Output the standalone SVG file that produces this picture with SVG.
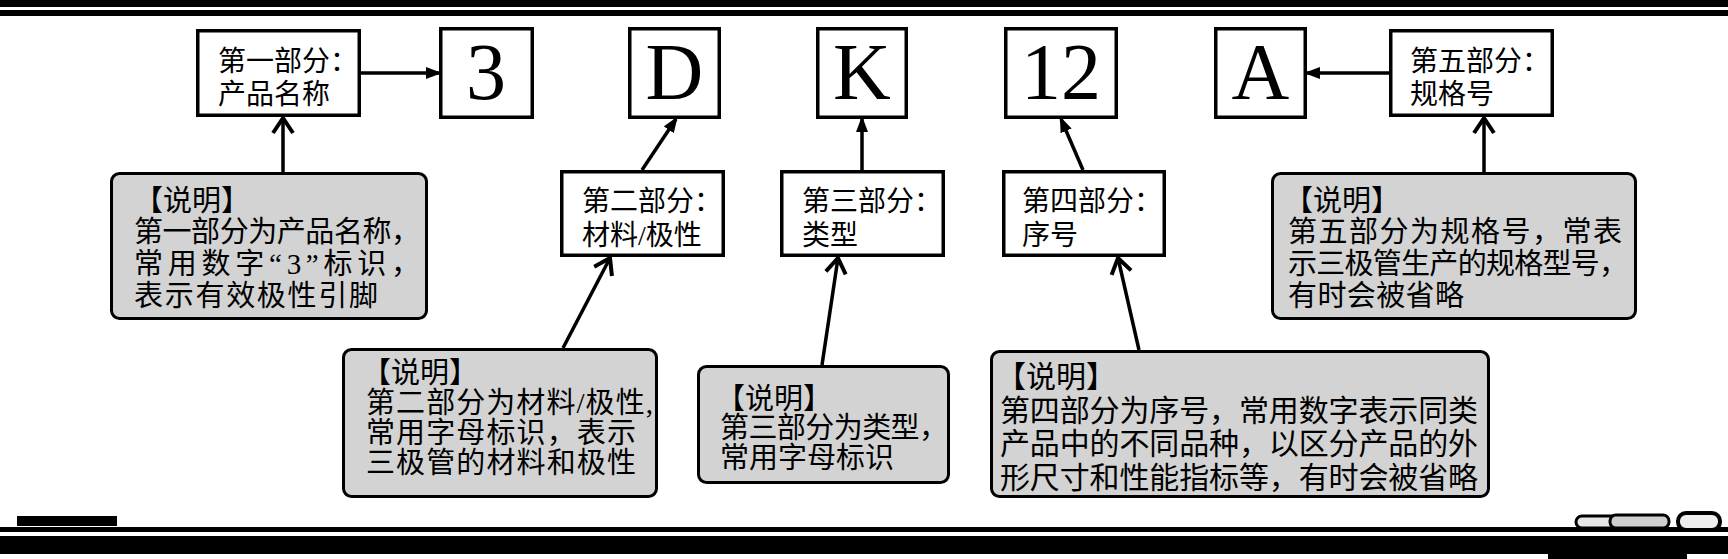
<svg xmlns="http://www.w3.org/2000/svg" width="1728" height="559" viewBox="0 0 1728 559">
<style>
.box{fill:#fff;stroke:#000;stroke-width:3.5}
.note{fill:#d3d3d3;stroke:#000;stroke-width:3;rx:8;ry:8}
.t{font-family:"Liberation Serif","Noto Sans CJK SC",serif;fill:#000}
.nt{font-size:28px}
.ct{font-size:29px}
.big{font-family:"Liberation Serif",serif;font-size:80px;text-anchor:middle;fill:#000}
.c{fill:none;stroke:#000;stroke-width:3.5}
.band{fill:#000}
</style>
<defs>
<marker id="tri" viewBox="0 0 16 12" refX="13" refY="6" markerWidth="16" markerHeight="12" markerUnits="userSpaceOnUse" orient="auto">
<path d="M0,0 L16,6 L0,12 Z" fill="#000"/>
</marker>
<marker id="chev" viewBox="-20 -14 24 28" refX="0" refY="0" markerWidth="24" markerHeight="28" markerUnits="userSpaceOnUse" orient="auto" overflow="visible">
<path d="M-15,-10 L0,0 L-15,10" fill="none" stroke="#000" stroke-width="4"/>
</marker>
</defs>

<g id="frame">
<rect class="band" x="0" y="0" width="1728" height="7"/>
<rect class="band" x="0" y="10" width="1728" height="6"/>
<rect class="band" x="17" y="516" width="100" height="10"/>
<rect class="band" x="0" y="527" width="1728" height="5"/>
<rect class="band" x="0" y="536" width="1728" height="18"/>
<rect class="band" x="1548" y="554" width="139" height="5"/>
<rect x="1576" y="516" width="45" height="12" rx="6" fill="#e6e6e6" stroke="#000" stroke-width="3"/>
<rect x="1610" y="515" width="59" height="13" rx="6" fill="#cfcfcf" stroke="#000" stroke-width="3"/>
<rect x="1678" y="513" width="42" height="17" rx="8" fill="#eee" stroke="#000" stroke-width="4"/>
</g>

<g id="connectors">
<path class="c" d="M361,73 L439,73" marker-end="url(#tri)"/>
<path class="c" d="M1389,73 L1307,73" marker-end="url(#tri)"/>
<path class="c" d="M642,170 L676,119" marker-end="url(#tri)"/>
<path class="c" d="M862,170 L862,119" marker-end="url(#tri)"/>
<path class="c" d="M1083,170 L1061,119" marker-end="url(#tri)"/>
<path class="c" d="M283,172 L283,118" marker-end="url(#chev)"/>
<path class="c" d="M563,348 L610,258" marker-end="url(#chev)"/>
<path class="c" d="M822,365 L838,258" marker-end="url(#chev)"/>
<path class="c" d="M1139,350 L1118,258" marker-end="url(#chev)"/>
<path class="c" d="M1484,172 L1484,118" marker-end="url(#chev)"/>
</g>

<g id="node1">
<rect class="box" x="197.75" y="30.75" width="161.5" height="84.5"/>
<text class="t nt" x="218" y="71">第一部分：</text>
<text class="t nt" x="218" y="104">产品名称</text>
</g>
<g id="box3">
<rect class="box" x="440.75" y="28.75" width="91.5" height="88.5"/>
<text class="big" x="486" y="99">3</text>
</g>
<g id="boxD">
<rect class="box" x="629.75" y="28.75" width="89.5" height="88.5"/>
<text class="big" x="674.5" y="99">D</text>
</g>
<g id="boxK">
<rect class="box" x="817.75" y="28.75" width="88.5" height="88.5"/>
<text class="big" x="862" y="99">K</text>
</g>
<g id="box12">
<rect class="box" x="1005.75" y="28.75" width="110.5" height="88.5"/>
<text class="big" x="1061" y="99">12</text>
</g>
<g id="boxA">
<rect class="box" x="1215.75" y="28.75" width="89.5" height="88.5"/>
<text class="big" x="1260.5" y="99">A</text>
</g>
<g id="node5">
<rect class="box" x="1390.75" y="30.75" width="161.5" height="84.5"/>
<text class="t nt" x="1410" y="71">第五部分：</text>
<text class="t nt" x="1410" y="104">规格号</text>
</g>
<g id="node2">
<rect class="box" x="561.75" y="171.75" width="161.5" height="83.5"/>
<text class="t nt" x="582" y="211">第二部分：</text>
<text class="t nt" x="582" y="245">材料/极性</text>
</g>
<g id="node3">
<rect class="box" x="781.75" y="171.75" width="161.5" height="83.5"/>
<text class="t nt" x="802" y="211">第三部分：</text>
<text class="t nt" x="802" y="245">类型</text>
</g>
<g id="node4">
<rect class="box" x="1003.75" y="171.75" width="160.5" height="83.5"/>
<text class="t nt" x="1022" y="211">第四部分：</text>
<text class="t nt" x="1022" y="245">序号</text>
</g>

<g id="note1">
<rect class="note" x="111.5" y="173.5" width="315" height="145"/>
<text class="t ct" x="134" y="211">【说明】</text>
<text class="t ct" x="134" y="242" textLength="286" lengthAdjust="spacing">第一部分为产品名称，</text>
<text class="t ct" x="134" y="274" textLength="286" lengthAdjust="spacing">常用数字“3”标识，</text>
<text class="t ct" x="134" y="306" textLength="244" lengthAdjust="spacing">表示有效极性引脚</text>
</g>
<g id="note2">
<rect class="note" x="343.5" y="349.5" width="313" height="147"/>
<text class="t ct" x="362" y="383">【说明】</text>
<text class="t ct" x="366" y="413" textLength="287" lengthAdjust="spacing">第二部分为材料/极性,</text>
<text class="t ct" x="366" y="443" textLength="270" lengthAdjust="spacing">常用字母标识，表示</text>
<text class="t ct" x="366" y="473" textLength="270" lengthAdjust="spacing">三极管的材料和极性</text>
</g>
<g id="note3">
<rect class="note" x="698.5" y="366.5" width="250" height="116"/>
<text class="t ct" x="716" y="409">【说明】</text>
<text class="t ct" x="720" y="438" textLength="228" lengthAdjust="spacing">第三部分为类型，</text>
<text class="t ct" x="720" y="468" textLength="174" lengthAdjust="spacing">常用字母标识</text>
</g>
<g id="note4">
<rect class="note" x="991.5" y="351.5" width="497" height="145"/>
<text class="t ct" x="996" y="387" style="font-size:30px">【说明】</text>
<text class="t ct" x="1000" y="421" style="font-size:30px" textLength="478" lengthAdjust="spacing">第四部分为序号，常用数字表示同类</text>
<text class="t ct" x="1000" y="454" style="font-size:30px" textLength="478" lengthAdjust="spacing">产品中的不同品种，以区分产品的外</text>
<text class="t ct" x="1000" y="488" style="font-size:30px" textLength="478" lengthAdjust="spacing">形尺寸和性能指标等，有时会被省略</text>
</g>
<g id="note5">
<rect class="note" x="1272.5" y="173.5" width="363" height="145"/>
<text class="t ct" x="1284" y="211">【说明】</text>
<text class="t ct" x="1288" y="242" textLength="334" lengthAdjust="spacing">第五部分为规格号，常表</text>
<text class="t ct" x="1288" y="274" textLength="340" lengthAdjust="spacing">示三极管生产的规格型号，</text>
<text class="t ct" x="1288" y="306" textLength="176" lengthAdjust="spacing">有时会被省略</text>
</g>
</svg>
